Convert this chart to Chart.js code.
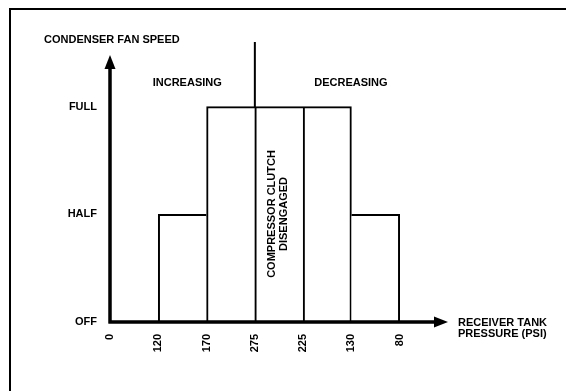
<!DOCTYPE html>
<html>
<head>
<meta charset="UTF-8">
<title>Condenser fan speed</title>
<script src="https://cdn.jsdelivr.net/npm/chart.js@4.4.0/dist/chart.umd.min.js"></script>
<style>
  body { margin: 0; background: #fff; }
  #wrap { width: 566px; height: 391px; position: relative; }
</style>
</head>
<body>
<div id="wrap"><canvas id="fanChart"></canvas></div>
<script>
// pressure tick labels (psi), left to right along the axis
const psiTicks = ['0', '120', '170', '275', '225', '130', '80'];
// fan speed levels on the y axis
const speedLevels = ['OFF', 'HALF', 'FULL'];
// fan speed in each band between two pressure ticks
const fanSpeed = [0, 1, 2, 2, 2, 1];
// tick where the compressor clutch disengages
const clutchTick = 3;

const FONT = '"Liberation Sans", Arial, sans-serif';

// each shared edge is drawn once, by the taller bar
function edgeWidth(ctx) {
  const i = ctx.dataIndex;
  const v = fanSpeed[i];
  const prev = i > 0 ? fanSpeed[i - 1] : 0;
  const next = i < fanSpeed.length - 1 ? fanSpeed[i + 1] : 0;
  return { top: 2, bottom: 0, left: prev <= v ? 2 : 0, right: next < v ? 2 : 0 };
}

const decor = {
  id: 'decor',
  beforeDraw(chart) {
    const c = chart.ctx;
    c.save();
    c.strokeStyle = '#000';
    c.lineWidth = 2;
    c.beginPath();
    c.moveTo(10, 391);
    c.lineTo(10, 9);
    c.lineTo(566, 9);
    c.stroke();
    c.restore();
  },
  afterDatasetsDraw(chart) {
    const c = chart.ctx;
    const xs = chart.scales.x, ys = chart.scales.y;
    const x0 = xs.getPixelForValue(0), y0 = ys.getPixelForValue(0);
    const xTip = xs.getPixelForValue(7), yTip = ys.getPixelForValue(2.48);
    c.save();
    c.fillStyle = '#000';
    c.strokeStyle = '#000';
    c.lineWidth = 3.5;
    c.beginPath();
    c.moveTo(x0, y0 + 1.5);
    c.lineTo(x0, yTip + 10);
    c.moveTo(x0 - 1.5, y0);
    c.lineTo(xTip - 10, y0);
    c.stroke();
    c.beginPath();
    c.moveTo(x0, yTip);
    c.lineTo(x0 - 5.5, yTip + 14);
    c.lineTo(x0 + 5.5, yTip + 14);
    c.closePath();
    c.fill();
    c.beginPath();
    c.moveTo(xTip, y0);
    c.lineTo(xTip - 14, y0 - 5.5);
    c.lineTo(xTip - 14, y0 + 5.5);
    c.closePath();
    c.fill();

    c.font = 'bold 11px ' + FONT;
    c.textBaseline = 'middle';
    c.textAlign = 'left';
    c.fillText('CONDENSER FAN SPEED', 44, 40);
    c.fillText('RECEIVER TANK', 458, 323);
    c.fillText('PRESSURE (PSI)', 458, 334);
    c.textAlign = 'center';
    c.fillText('INCREASING', xs.getPixelForValue(1.6), 83);
    c.fillText('DECREASING', xs.getPixelForValue(4.99), 83);

    c.translate(xs.getPixelForValue(clutchTick + 0.47), 214);
    c.rotate(-Math.PI / 2);
    c.fillText('COMPRESSOR CLUTCH', 0, -6);
    c.fillText('DISENGAGED', 0, 6);
    c.restore();
  }
};

new Chart(document.getElementById('fanChart'), {
  type: 'bar',
  data: {
    datasets: [{
      data: fanSpeed.map((v, i) => ({ x: i + 0.5, y: v })),
      backgroundColor: '#fff',
      borderColor: '#000',
      borderWidth: edgeWidth,
      borderSkipped: false,
      barPercentage: 1,
      categoryPercentage: 1
    }, {
      type: 'line',
      data: [{ x: clutchTick, y: 0 }, { x: clutchTick, y: 2.6 }],
      borderColor: '#000',
      borderWidth: 2,
      pointRadius: 0,
      clip: false
    }]
  },
  options: {
    responsive: true,
    maintainAspectRatio: false,
    animation: false,
    layout: { padding: { top: 42, right: 118, left: 0, bottom: 0 } },
    plugins: { legend: { display: false }, tooltip: { enabled: false } },
    scales: {
      x: {
        type: 'linear',
        min: 0,
        max: 7,
        offset: false,
        grid: { display: false, drawTicks: false },
        border: { display: false },
        afterFit(s) { s.height = 69; },
        ticks: {
          stepSize: 1,
          autoSkip: false,
          minRotation: 90,
          maxRotation: 90,
          padding: 12,
          color: '#000',
          font: { family: FONT, size: 11, weight: 'bold' },
          callback: v => psiTicks[v] ?? ''
        }
      },
      y: {
        min: 0,
        max: 2.6,
        grid: { display: false, drawTicks: false },
        border: { display: false },
        afterFit(s) { s.width = 110; },
        afterBuildTicks(s) { s.ticks = speedLevels.map((_, i) => ({ value: i })); },
        ticks: {
          padding: 13,
          color: '#000',
          font: { family: FONT, size: 11, weight: 'bold' },
          callback: v => speedLevels[v]
        }
      }
    }
  },
  plugins: [decor]
});
</script>
</body>
</html>
